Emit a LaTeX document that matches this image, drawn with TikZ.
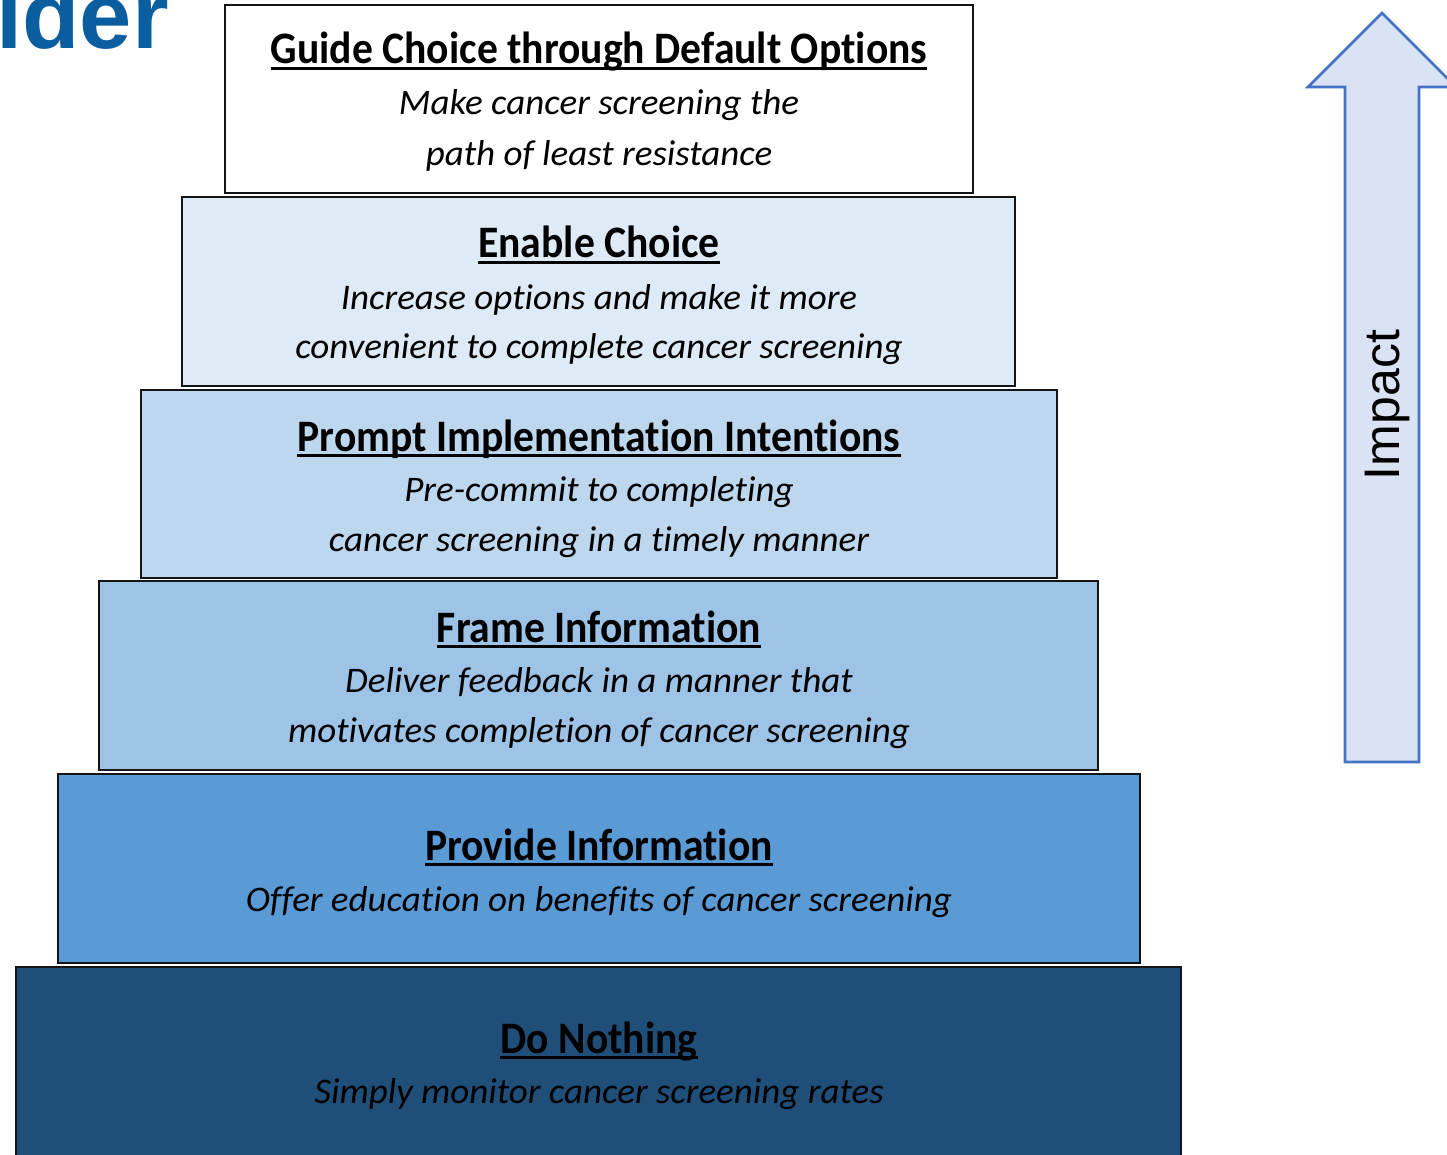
\documentclass[tikz,border=0pt]{standalone}
\usepackage{graphicx}
\usepackage{fontspec}
\setmainfont{Carlito}[Ligatures=NoCommon]
\newfontfamily\arialf{Liberation Sans}
\newcommand\ttlsq[1]{\scalebox{0.925}[1]{#1}}
\newcommand\subsq[1]{\scalebox{1.028}[1]{#1}}
\definecolor{boxline}{HTML}{141414}
\definecolor{tierA}{HTML}{FFFFFF}
\definecolor{tierB}{HTML}{DEEBF7}
\definecolor{tierC}{HTML}{BDD7EE}
\definecolor{tierD}{HTML}{9DC3E6}
\definecolor{tierE}{HTML}{5B9BD5}
\definecolor{tierF}{HTML}{1F4E79}
\definecolor{arrowline}{HTML}{4472C4}
\definecolor{arrowfill}{HTML}{DAE3F3}
\definecolor{hdrblue}{HTML}{0A5E9F}
\begin{document}
\begin{tikzpicture}[x=1pt,y=-1pt,
  tier/.style={draw=boxline, line width=2.6pt, inner sep=0pt},
  ttl/.style={font=\fontsize{45}{45}\selectfont\bfseries, inner sep=0pt, anchor=base},
  sub/.style={font=\fontsize{36}{36}\selectfont\itshape, inner sep=0pt, anchor=base},
  uline/.style={line width=2.2pt, draw=black}]
\useasboundingbox (0,0) rectangle (1447,1155);
\clip (0,0) rectangle (1447,1155);

% header fragment
\node[font=\arialf\bfseries\fontsize{94}{94}\selectfont, text=hdrblue, anchor=base west, inner sep=0pt] (hdr) at (-4,49) {ider};

% tiers
\node[tier, fill=tierA, minimum width=748pt, minimum height=188pt] (b1) at (599,99) {};
\node[tier, fill=tierB, minimum width=833pt, minimum height=189pt] (b2) at (598.5,291.5) {};
\node[tier, fill=tierC, minimum width=916pt, minimum height=188pt] (b3) at (599,484) {};
\node[tier, fill=tierD, minimum width=999pt, minimum height=189pt] (b4) at (598.5,675.5) {};
\node[tier, fill=tierE, minimum width=1082pt, minimum height=189pt] (b5) at (599,868.5) {};
\node[tier, fill=tierF, minimum width=1165pt, minimum height=200pt] (b6) at (598.5,1067) {};

% texts
\node[ttl] (t1) at (599,64) {\ttlsq{Guide Choice through Default Options}};
\node[sub] (s1a) at (599,115) {\subsq{Make cancer screening the}};
\node[sub] (s1b) at (599,166) {\subsq{path of least resistance}};

\node[ttl] (t2) at (599,258) {\ttlsq{Enable Choice}};
\node[sub] (s2a) at (599,309) {\subsq{Increase options and make it more}};
\node[sub] (s2b) at (599,358) {\subsq{convenient to complete cancer screening}};

\node[ttl] (t3) at (599,451) {\ttlsq{Prompt Implementation Intentions}};
\node[sub] (s3a) at (599,501) {\subsq{Pre-commit to completing}};
\node[sub] (s3b) at (599,551) {\subsq{cancer screening in a timely manner}};

\node[ttl] (t4) at (599,642) {\ttlsq{Frame Information}};
\node[sub] (s4a) at (599,692) {\subsq{Deliver feedback in a manner that}};
\node[sub] (s4b) at (599,742) {\subsq{motivates completion of cancer screening}};

\node[ttl] (t5) at (599,860) {\ttlsq{Provide Information}};
\node[sub] (s5a) at (599,911) {\subsq{Offer education on benefits of cancer screening}};

\node[ttl] (t6) at (599,1053) {\ttlsq{Do Nothing}};
\node[sub] (s6a) at (599,1103) {\subsq{Simply monitor cancer screening rates}};

% underlines
\foreach \t in {t1,t2,t3,t4,t5,t6}
  \draw[uline] ([yshift=-4.5pt]\t.base west) -- ([yshift=-4.5pt]\t.base east);

% impact arrow
\draw[draw=arrowline, fill=arrowfill, line width=2.6pt, line join=miter]
  (1382,13) -- (1456,87) -- (1419,87) -- (1419,762) -- (1345,762) -- (1345,87) -- (1308,87) -- cycle;
\node[font=\arialf\fontsize{50}{50}\selectfont, rotate=90, anchor=base, inner sep=0pt] (imp) at (1399,405) {Impact};
\end{tikzpicture}
\end{document}
